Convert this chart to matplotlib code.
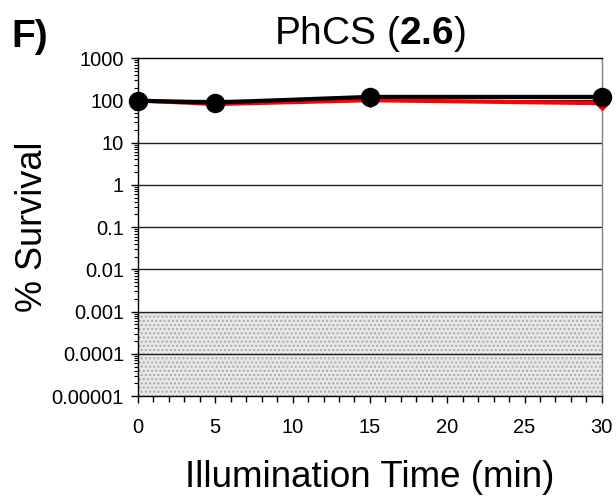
import numpy as np
import matplotlib.pyplot as plt
from matplotlib.ticker import FixedLocator, MultipleLocator, LogLocator, NullFormatter

plt.rcParams['font.family'] = ['Liberation Sans', 'DejaVu Sans']
plt.rcParams['mathtext.fontset'] = 'custom'
plt.rcParams['mathtext.rm'] = 'Liberation Sans'
plt.rcParams['mathtext.bf'] = 'Liberation Sans:bold'

time = [0, 5, 15, 30]                 # illumination time (min)
survival_black = [98, 89, 121, 121]   # % survival, black series
survival_red = [100, 82, 101, 86]     # % survival, red series

ytick_vals = [1e-5, 1e-4, 1e-3, 1e-2, 1e-1, 1, 10, 100, 1000]
ytick_labels = ['0.00001', '0.0001', '0.001', '0.01', '0.1', '1', '10', '100', '1000']
xtick_vals = [0, 5, 10, 15, 20, 25, 30]

fig = plt.figure(figsize=(6.16, 4.97), dpi=100)
ax = fig.add_axes([0.224, 0.203, 0.753, 0.680])

# detection limit band
ax.axhspan(1e-5, 1e-3, facecolor='#e8e8e8', edgecolor='#a8a8a8', hatch='....', linewidth=0, zorder=0)

# decade grid lines
for v in ytick_vals[1:-1]:
    ax.axhline(v, color='#202020', lw=1.0, zorder=1)

ax.plot(time, survival_red, color='red', lw=3, marker='D', ms=7, mfc='red', mec='red', zorder=3, clip_on=False)
ax.plot(time, survival_black, color='black', lw=3, marker='o', ms=13, zorder=4, clip_on=False)

ax.set_yscale('log')
ax.set_ylim(1e-5, 1e3)
ax.set_xlim(0, 30)
ax.yaxis.set_major_locator(FixedLocator(ytick_vals))
ax.set_yticklabels(ytick_labels)
ax.yaxis.set_minor_locator(LogLocator(base=10, subs=np.arange(2, 10), numticks=20))
ax.yaxis.set_minor_formatter(NullFormatter())
ax.set_xticks(xtick_vals)
ax.xaxis.set_minor_locator(MultipleLocator(1))

ax.tick_params(axis='both', which='major', labelsize=14.5, direction='out', length=5, width=1, colors='black')
ax.tick_params(axis='y', which='minor', direction='out', length=3, width=0.8)
ax.tick_params(axis='x', which='minor', direction='out', length=4, width=1)
ax.tick_params(axis='x', which='major', pad=11)
ax.tick_params(axis='y', which='major', pad=5)

for s in ['left', 'bottom', 'top']:
    ax.spines[s].set_color('black')
    ax.spines[s].set_linewidth(1.0)
ax.spines['right'].set_color('#808080')
ax.spines['right'].set_linewidth(1.0)

ax.set_xlabel('Illumination Time (min)', fontsize=26.5, labelpad=16)
ax.set_ylabel('% Survival', fontsize=26, labelpad=1)
ax.set_title(r'PhCS ($\mathbf{2.6}$)', fontsize=28, pad=10)
fig.text(0.018, 0.905, 'F)', fontsize=28, fontweight='bold')

plt.savefig('out.png', dpi=100)
